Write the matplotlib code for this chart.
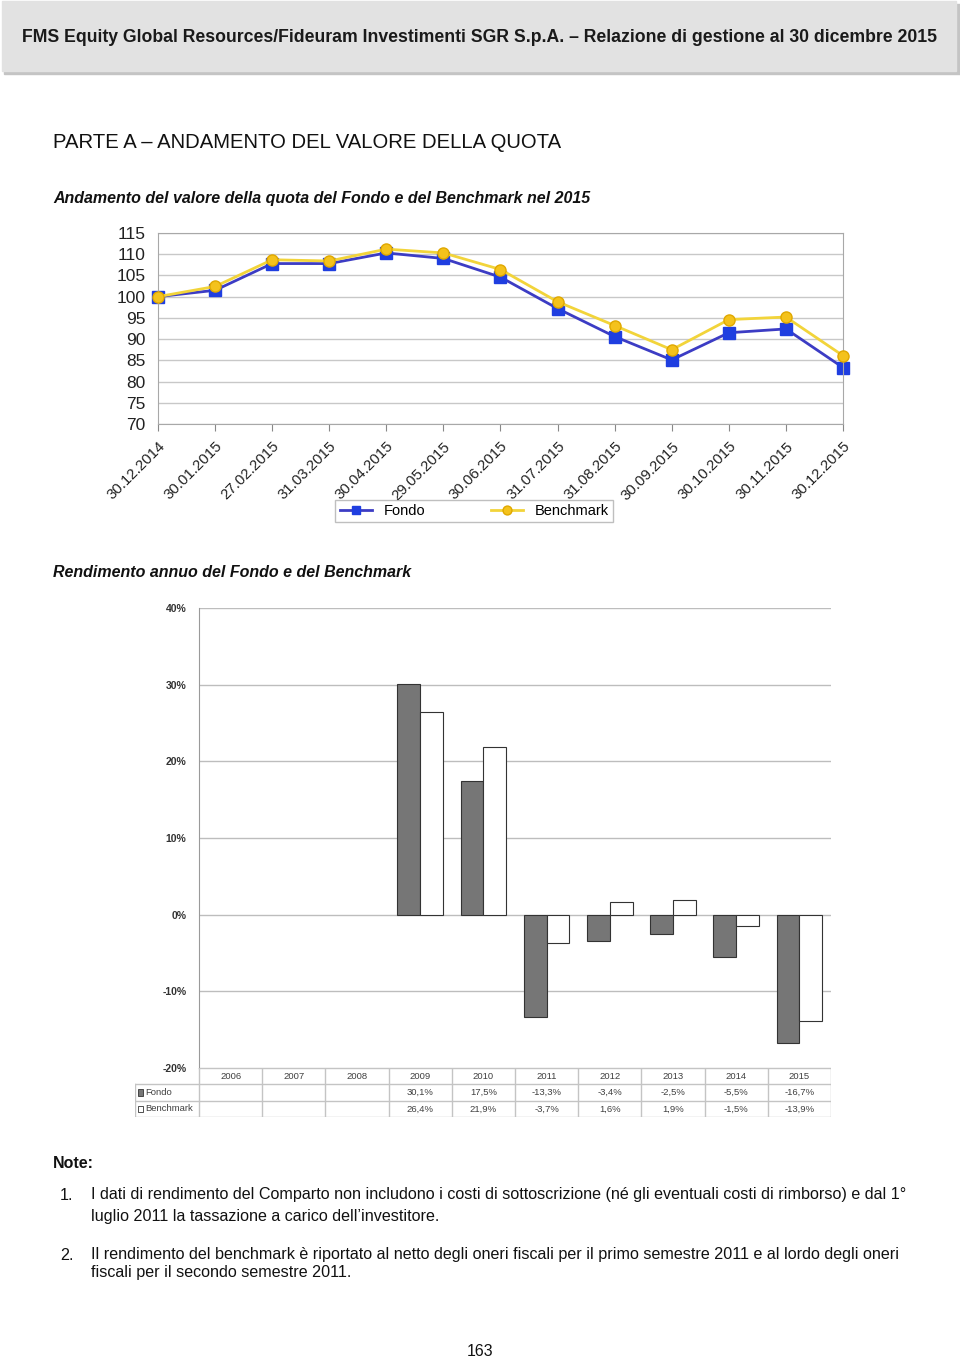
import numpy as np
import matplotlib
matplotlib.use("Agg")
import matplotlib.pyplot as plt
from matplotlib.patches import Rectangle

plt.rcParams['font.family'] = ['Liberation Sans', 'DejaVu Sans']

# ---- data: monthly NAV index 2015 ----
dates = ["30.12.2014", "30.01.2015", "27.02.2015", "31.03.2015", "30.04.2015",
         "29.05.2015", "30.06.2015", "31.07.2015", "31.08.2015", "30.09.2015",
         "30.10.2015", "30.11.2015", "30.12.2015"]
fondo_idx = [100.0, 101.5, 107.8, 107.8, 110.3, 109.0, 104.6, 97.2, 90.6, 85.1, 91.5, 92.4, 83.3]
bench_idx = [100.0, 102.4, 108.7, 108.4, 111.2, 110.3, 106.4, 98.8, 93.2, 87.5, 94.6, 95.2, 86.1]

# ---- data: annual returns ----
years = ["2006", "2007", "2008", "2009", "2010", "2011", "2012", "2013", "2014", "2015"]
fondo_ret = [np.nan, np.nan, np.nan, 30.1, 17.5, -13.3, -3.4, -2.5, -5.5, -16.7]
bench_ret = [np.nan, np.nan, np.nan, 26.4, 21.9, -3.7, 1.6, 1.9, -1.5, -13.9]

W, H = 960, 1358
fig = plt.figure(figsize=(W / 100, H / 100), dpi=100)


def box(x0, y0, x1, y1):
    # pixel box (top-left origin) -> figure fraction rect
    return [x0 / W, 1 - y1 / H, (x1 - x0) / W, (y1 - y0) / H]


def ftext(x, y, s, **kw):
    fig.text(x / W, 1 - y / H, s, **kw)


# header band
hdr = fig.add_axes([0, 0, 1, 1], zorder=-5)
hdr.set_xlim(0, W)
hdr.set_ylim(H, 0)
hdr.axis("off")
hdr.add_patch(Rectangle((4, 4), 956, 70, color="#c4c4c4"))
hdr.add_patch(Rectangle((2, 1), 954, 70, color="#e2e2e2"))
ftext(480, 38, "FMS Equity Global Resources/Fideuram Investimenti SGR S.p.A. \u2013 Relazione di gestione al 30 dicembre 2015",
      ha="center", va="center", fontsize=12.7, fontweight="bold", color="#1a1a1a")

ftext(53, 143, "PARTE A \u2013 ANDAMENTO DEL VALORE DELLA QUOTA", ha="left", va="center",
      fontsize=14.6, color="#111111")
ftext(53, 199, "Andamento del valore della quota del Fondo e del Benchmark nel 2015", ha="left",
      va="center", fontsize=11.5, fontweight="bold", style="italic", color="#111111")
ftext(53, 572, "Rendimento annuo del Fondo e del Benchmark", ha="left",
      va="center", fontsize=11.5, fontweight="bold", style="italic", color="#111111")

# ---- line chart ----
ax1 = fig.add_axes(box(158, 233, 843, 424))
x = np.arange(len(dates))
ax1.plot(x, bench_idx, color="#f2d43a", lw=2, marker="o", ms=8,
         mfc="#f4c21c", mec="#e0a800", label="Benchmark", zorder=3, clip_on=False)
ax1.plot(x, fondo_idx, color="#3c3cc4", lw=2, marker="s", ms=8,
         mfc="#1f3ee0", mec="#1f3ee0", label="Fondo", zorder=2, clip_on=False)
ax1.set_xlim(0, len(dates) - 1)
ax1.set_ylim(70, 115)
ax1.set_yticks(np.arange(70, 116, 5))
ax1.set_xticks(x)
ax1.set_xticklabels(dates, rotation=45, ha="right", rotation_mode="anchor", fontsize=10.8, color="#222222")
ax1.tick_params(axis="y", labelsize=12.5, length=0, pad=9, colors="#222222")
ax1.tick_params(axis="x", length=5, color="#888888", pad=6)
ax1.grid(axis="y", color="#c8c8c8", lw=1)
for s in ax1.spines.values():
    s.set_color("#a8a8a8")
ax1.set_axisbelow(True)
h, l = ax1.get_legend_handles_labels()
leg = fig.legend([h[1], h[0]], [l[1], l[0]], ncol=2, loc="center",
                 bbox_to_anchor=(474 / W, 1 - 511 / H), fontsize=10.5, frameon=True,
                 fancybox=False, edgecolor="#b0b0b0", handlelength=2.2, columnspacing=4.5,
                 markerscale=0.8, borderpad=0.3, borderaxespad=0)
leg.get_frame().set_linewidth(1)

# ---- bar chart ----
ax2 = fig.add_axes(box(199, 608, 831, 1068))
xb = np.arange(len(years))
bw = 0.36
ax2.bar(xb - bw / 2, fondo_ret, bw, color="#767676", edgecolor="#333333", lw=0.8, zorder=3)
ax2.bar(xb + bw / 2, bench_ret, bw, color="white", edgecolor="#333333", lw=0.8, zorder=3)
ax2.set_xlim(-0.5, len(years) - 0.5)
ax2.set_ylim(-20, 40)
ax2.set_yticks(np.arange(-20, 41, 10))
ax2.set_yticklabels([f"{v}%" for v in range(-20, 41, 10)])
ax2.tick_params(axis="y", labelsize=7.5, length=0, pad=9, colors="#333333")
for t in ax2.get_yticklabels():
    t.set_fontweight("bold")
ax2.set_xticks([])
ax2.grid(axis="y", color="#bdbdbd", lw=1)
ax2.set_axisbelow(True)
for k in ["top", "right", "bottom"]:
    ax2.spines[k].set_visible(False)
ax2.spines["left"].set_color("#9a9a9a")

# data table under the bar chart
lab_w = 64 / 63.2
ax3 = fig.add_axes(box(135, 1068, 831, 1117))
ax3.set_xlim(-0.5 - lab_w, len(years) - 0.5)
ax3.set_ylim(3, 0)
ax3.axis("off")
lc = "#c4c4c4"
ax3.plot([-0.5, len(years) - 0.5], [0, 0], color=lc, lw=1)
ax3.plot([-0.5 - lab_w, len(years) - 0.5], [1, 1], color=lc, lw=1)
ax3.plot([-0.5 - lab_w, len(years) - 0.5], [2, 2], color=lc, lw=1)
ax3.plot([-0.5 - lab_w, len(years) - 0.5], [3, 3], color=lc, lw=1)
ax3.plot([-0.5 - lab_w] * 2, [1, 3], color=lc, lw=1)
for i in range(len(years) + 1):
    ax3.plot([i - 0.5] * 2, [0, 3], color=lc, lw=1)
tc = "#404040"
for i, yr in enumerate(years):
    ax3.text(i, 0.5, yr, ha="center", va="center", fontsize=6.8, color=tc)
    if not np.isnan(fondo_ret[i]):
        ax3.text(i, 1.5, f"{fondo_ret[i]:.1f}%".replace(".", ","), ha="center", va="center",
                 fontsize=6.8, color=tc)
        ax3.text(i, 2.5, f"{bench_ret[i]:.1f}%".replace(".", ","), ha="center", va="center",
                 fontsize=6.8, color=tc)
x0 = -0.5 - lab_w + 0.04
ax3.add_patch(Rectangle((x0, 1.3), 0.09, 0.4, facecolor="#767676", edgecolor="#333333", lw=0.6))
ax3.add_patch(Rectangle((x0, 2.3), 0.09, 0.4, facecolor="white", edgecolor="#333333", lw=0.6))
ax3.text(x0 + 0.13, 1.5, "Fondo", ha="left", va="center", fontsize=6.8, color=tc)
ax3.text(x0 + 0.13, 2.5, "Benchmark", ha="left", va="center", fontsize=6.8, color=tc)

# ---- notes ----
ftext(53, 1163, "Note:", ha="left", va="center", fontsize=11.5, fontweight="bold", color="#111111")
nk = dict(ha="left", va="center", fontsize=11.6, color="#111111")
ftext(60, 1195, "1.", **nk)
ftext(91, 1195, "I dati di rendimento del Comparto non includono i costi di sottoscrizione (n\u00e9 gli eventuali costi di rimborso) e dal 1\u00b0", **nk)
ftext(91, 1216, "luglio 2011 la tassazione a carico dell\u2019investitore.", **nk)
ftext(60, 1255, "2.", **nk)
ftext(91, 1255, "Il rendimento del benchmark \u00e8 riportato al netto degli oneri fiscali per il primo semestre 2011 e al lordo degli oneri", **nk)
ftext(91, 1273, "fiscali per il secondo semestre 2011.", **nk)
ftext(480, 1351, "163", ha="center", va="center", fontsize=11.5, color="#111111")

fig.savefig("out.png", dpi=100)
